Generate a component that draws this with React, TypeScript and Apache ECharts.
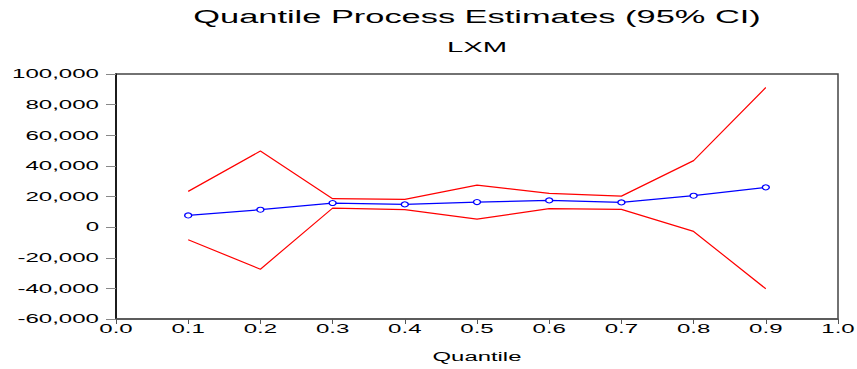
import React, { useEffect, useRef } from "react";
import * as echarts from "echarts";

const quantiles = [0.1, 0.2, 0.3, 0.4, 0.5, 0.6, 0.7, 0.8, 0.9];
const estimates = [7650, 11380, 15700, 14850, 16350, 17460, 16150, 20530, 25960];
const upperCI = [23350, 49700, 18570, 18100, 27470, 22040, 20270, 43420, 91170];
const lowerCI = [-8240, -27470, 12430, 11380, 5230, 12030, 11580, -2810, -40290];

const xTicks = [0, 0.1, 0.2, 0.3, 0.4, 0.5, 0.6, 0.7, 0.8, 0.9, 1.0];
const yTicks = [-60000, -40000, -20000, 0, 20000, 40000, 60000, 80000, 100000];

const TITLE = "Quantile Process Estimates (95% CI)";
const SUBTITLE = "LXM";
const X_NAME = "Quantile";

const FONT = "'Liberation Sans', Arial, sans-serif";

export default function App() {
  const ref = useRef<HTMLDivElement>(null);
  useEffect(() => {
    if (!ref.current) return;
    const chart = echarts.init(ref.current, undefined, { renderer: "svg" });
    const pair = (arr: number[]) => quantiles.map((q, i) => [q, arr[i]]);
    chart.setOption({
      animation: false,
      backgroundColor: "#ffffff",
      grid: { left: 116, right: 19, top: 74, bottom: 50, show: true, borderColor: "#444", borderWidth: 1.5, backgroundColor: "transparent" },
      xAxis: {
        type: "value",
        min: 0,
        max: 1,
        interval: 0.1,
        axisLine: { show: true, onZero: false, lineStyle: { color: "#555", width: 1.5 } },
        axisTick: { show: true, length: 5, lineStyle: { color: "#555" } },
        axisLabel: { show: false },
        splitLine: { show: false },
      },
      yAxis: {
        type: "value",
        min: -60000,
        max: 100000,
        interval: 20000,
        axisLine: { show: true, onZero: false, lineStyle: { color: "#000", width: 1.5 } },
        axisTick: { show: true, length: 10, lineStyle: { color: "#888" } },
        axisLabel: { show: false },
        splitLine: { show: false },
      },
      series: [
        {
          type: "line",
          data: pair(upperCI),
          symbol: "none",
          lineStyle: { color: "#ff0000", width: 1.2 },
        },
        {
          type: "line",
          data: pair(lowerCI),
          symbol: "none",
          lineStyle: { color: "#ff0000", width: 1.2 },
        },
        {
          type: "line",
          data: pair(estimates),
          symbol: "circle",
          symbolSize: [7, 5],
          itemStyle: { color: "#ffffff", borderColor: "#0000ff", borderWidth: 1.2 },
          lineStyle: { color: "#0000ff", width: 1.2 },
        },
      ],
    });

    const toPx = (x: number, y: number) => chart.convertToPixel({ gridIndex: 0 }, [x, y]) as number[];
    const txt = (text: string, x: number, y: number, size: number, sx: number, align: string) => ({
      type: "text",
      x,
      y,
      scaleX: sx,
      silent: true,
      style: {
        text,
        font: `${size}px ${FONT}`,
        fill: "#000",
        align,
        verticalAlign: "middle",
      },
    });
    const graphics: any[] = [];
    const left = toPx(0, 0)[0];
    const right = toPx(1, 0)[0];
    const bottom = toPx(0, -60000)[1];
    const mid = (left + right) / 2;
    graphics.push(txt(TITLE, mid, 17, 18, 1.91, "center"));
    graphics.push(txt(SUBTITLE, mid, 47, 15, 1.95, "center"));
    yTicks.forEach((v) => {
      const p = toPx(0, v);
      graphics.push(txt(v.toLocaleString("en-US"), 99, p[1], 13, 1.85, "right"));
    });
    xTicks.forEach((v) => {
      const p = toPx(v, -60000);
      graphics.push(txt(v.toFixed(1), p[0], bottom + 10, 13, 1.85, "center"));
    });
    graphics.push(txt(X_NAME, mid, bottom + 38, 12.5, 1.91, "center"));
    chart.setOption({ graphic: graphics });

    return () => chart.dispose();
  }, []);
  return <div ref={ref} style={{ width: 857, height: 369, position: "absolute", left: 0, top: 0 }} />;
}
